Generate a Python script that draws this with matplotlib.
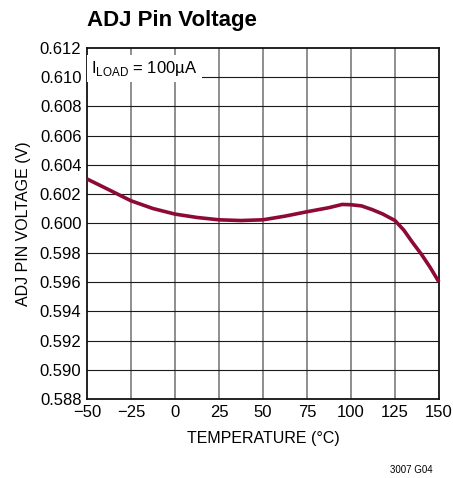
import matplotlib.pyplot as plt

# values
temperature = [-50, -37.5, -25, -12.5, 0, 12.5, 25, 37.5, 50, 62.5, 75, 87.5,
               95, 100, 106, 112, 118, 125, 130, 135, 140, 145, 150]
adj_voltage = [0.60304, 0.6023, 0.60155, 0.60102, 0.60064, 0.60041, 0.60025, 0.6002,
               0.60025, 0.6005, 0.6008, 0.60108, 0.6013, 0.60128, 0.6012, 0.60095,
               0.60065, 0.6002, 0.59955, 0.5987, 0.5979, 0.5970, 0.5960]

x_ticks = [-50, -25, 0, 25, 50, 75, 100, 125, 150]
x_labels = ['\u221250', '\u221225', '0', '25', '50', '75', '100', '125', '150']
y_ticks = [0.588 + 0.002 * i for i in range(13)]

plt.rcParams['font.family'] = ['Liberation Sans', 'DejaVu Sans']

fig = plt.figure(figsize=(4.53, 4.78), dpi=100)
ax = fig.add_axes([0.192, 0.165, 0.777, 0.735])

ax.set_xlim(-50, 150)
ax.set_ylim(0.588, 0.612)
ax.set_xticks(x_ticks)
ax.set_xticklabels(x_labels)
ax.set_yticks(y_ticks)
ax.set_yticklabels([f'{v:.3f}' for v in y_ticks])
ax.tick_params(length=0, labelsize=12, pad=4)

for x in x_ticks[1:-1]:
    ax.axvline(x, color='#707070', lw=1.1, zorder=1)
for y in y_ticks[1:-1]:
    ax.axhline(y, color='#1a1a1a', lw=0.8, zorder=1)
for s in ax.spines.values():
    s.set_linewidth(1.3)
    s.set_color('#111111')

ax.plot(temperature, adj_voltage, color='#8c0a33', lw=2.6, solid_joinstyle='round',
        solid_capstyle='butt', zorder=3, clip_on=False)

ax.text(-47.5, 0.6106, r'I$_{\mathregular{LOAD}}$ = 100µA', fontsize=12, va='center', ha='left',
        zorder=4, bbox=dict(boxstyle='square,pad=0.25', fc='white', ec='none'))

ax.set_xlabel('TEMPERATURE (°C)', fontsize=11.5, labelpad=8)
ax.set_ylabel('ADJ PIN VOLTAGE (V)', fontsize=11.5, labelpad=6)

fig.text(0.192, 0.958, 'ADJ Pin Voltage', fontsize=16, fontweight='bold', ha='left', va='center')
fig.text(0.955, 0.017, '3007 G04', fontsize=7, ha='right', va='center')

fig.savefig('out.png', dpi=100)
